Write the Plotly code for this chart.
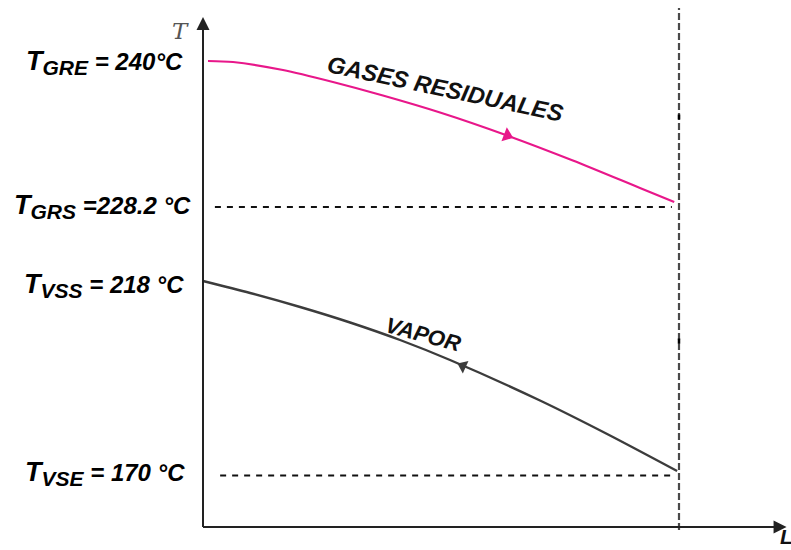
import plotly.graph_objects as go

# Schematic temperature profile along the exchanger length (not to scale).
# L: normalised length (0 = inlet side, 1 = outlet side)
# h: schematic height on the temperature axis
gas_L = [0.0105, 0.063, 0.168, 0.273, 0.378, 0.498, 0.639, 0.777, 0.918, 0.990]
gas_h = [93.2, 93.0, 91.4, 89.0, 86.3, 82.9, 78.3, 73.3, 67.8, 65.0]

vap_L = [0.0, 0.099, 0.204, 0.309, 0.414, 0.519, 0.708, 0.849, 0.996]
vap_h = [49.2, 46.8, 44.0, 40.9, 37.4, 33.4, 25.3, 18.6, 11.2]

# Flow-direction arrow positions (L, h, direction angle)
gas_arrow = (0.639, 78.3, 21)
vap_arrow = (0.546, 32.2, 24)

# Temperature levels marked on the vertical axis
level_names = ["GRE", "GRS", "VSS", "VSE"]
level_temps = ["240°C", "228.2 °C", "218 °C", "170 °C"]
level_sep = [" = ", " =", " = ", " = "]
level_h = [93.0, 64.2, 48.4, 10.8]
label_right = [-0.0378, -0.021, -0.0357, -0.0336]

# Reference (dotted) lines drawn at the outlet temperatures
ref_levels = [64.0, 10.3]
ref_start = [0.025, 0.036]

L_end = 1.0
x_range = [-203 / 476, 588 / 476]
y_range = [-4.6, 105.4]

PINK = "#e8178a"
GREY = "#3c3c3c"

fig = go.Figure()

# Curves
fig.add_trace(go.Scatter(x=gas_L, y=gas_h, mode="lines",
                         line=dict(color=PINK, width=2.2, shape="spline", smoothing=0.8),
                         hoverinfo="skip"))
fig.add_trace(go.Scatter(x=vap_L, y=vap_h, mode="lines",
                         line=dict(color=GREY, width=2.4, shape="spline", smoothing=0.8),
                         hoverinfo="skip"))

# Flow-direction arrowheads on the curves
fig.add_trace(go.Scatter(x=[gas_arrow[0]], y=[gas_arrow[1]], mode="markers",
                         marker=dict(symbol="triangle-right", size=13, angle=gas_arrow[2],
                                     color=PINK, line=dict(width=0)),
                         hoverinfo="skip"))
fig.add_trace(go.Scatter(x=[vap_arrow[0]], y=[vap_arrow[1]], mode="markers",
                         marker=dict(symbol="triangle-left", size=12, angle=vap_arrow[2],
                                     color=GREY, line=dict(width=0)),
                         hoverinfo="skip"))

shapes = []
# Dotted horizontal reference lines
for h, x0 in zip(ref_levels, ref_start):
    shapes.append(dict(type="line", x0=x0, x1=0.985, y0=h, y1=h,
                       line=dict(color="#111111", width=2, dash="6px,6px")))
# Dashed vertical line at the end of the exchanger
shapes.append(dict(type="line", x0=L_end, x1=L_end, y0=-0.6, y1=103.8,
                   line=dict(color="#4a4a4a", width=2.2, dash="7px,3px")))
# Small dark marks on the vertical line
for h in [82.0, 37.2]:
    shapes.append(dict(type="line", x0=L_end, x1=L_end, y0=h - 0.5, y1=h + 0.5,
                       line=dict(color="#000000", width=2.5)))
# Axis lines
shapes.append(dict(type="line", x0=0, x1=0, y0=0, y1=99.5,
                   line=dict(color="#222222", width=2)))
shapes.append(dict(type="line", x0=0, x1=1.20, y0=0, y1=0,
                   line=dict(color="#222222", width=2)))

annotations = []
# Axis arrowheads
annotations.append(dict(x=0, y=102.0, ax=0, ay=98, xref="x", yref="y",
                        axref="x", ayref="y", showarrow=True, arrowhead=2,
                        arrowsize=1.3, arrowwidth=2, arrowcolor="#222222", text=""))
annotations.append(dict(x=1.226, y=0, ax=1.19, ay=0, xref="x", yref="y",
                        axref="x", ayref="y", showarrow=True, arrowhead=2,
                        arrowsize=1.3, arrowwidth=2, arrowcolor="#222222", text=""))
# Axis names
annotations.append(dict(x=-0.048, y=99.2, xref="x", yref="y", text="<i>T</i>",
                        showarrow=False,
                        font=dict(family="DejaVu Serif", size=23, color="#555555")))
annotations.append(dict(x=1.208, y=0.8, xref="x", yref="y", text="<b><i>L</i></b>",
                        xanchor="left", yanchor="top", showarrow=False,
                        font=dict(family="Liberation Sans", size=21, color="#111111")))

# Temperature level labels
for name, sep, temp, h, xr in zip(level_names, level_sep, level_temps, level_h, label_right):
    txt = ("<b><i><span style='font-size:27px'>T</span>"
           "<sub><span style='font-size:21px'>" + name + "</span></sub>"
           + sep + temp + "</i></b>")
    annotations.append(dict(x=xr, y=h, xref="x", yref="y", text=txt,
                            xanchor="right", yanchor="middle", showarrow=False,
                            font=dict(family="Liberation Sans", size=24, color="#000000")))

# Stream names along the curves
annotations.append(dict(x=0.51, y=87.6, xref="x", yref="y",
                        text="<b><i>GASES RESIDUALES</i></b>",
                        textangle=12, showarrow=False,
                        font=dict(family="Liberation Sans", size=23.5, color="#111111")))
annotations.append(dict(x=0.464, y=38.6, xref="x", yref="y", text="<b><i>VAPOR</i></b>",
                        textangle=15, showarrow=False,
                        font=dict(family="Liberation Sans", size=22, color="#111111")))

fig.update_layout(
    width=791, height=550,
    margin=dict(l=0, r=0, t=0, b=0),
    paper_bgcolor="white", plot_bgcolor="white",
    showlegend=False,
    xaxis=dict(range=x_range, visible=False, fixedrange=True),
    yaxis=dict(range=y_range, visible=False, fixedrange=True),
    shapes=shapes,
    annotations=annotations,
)

fig.write_html("out.html")
